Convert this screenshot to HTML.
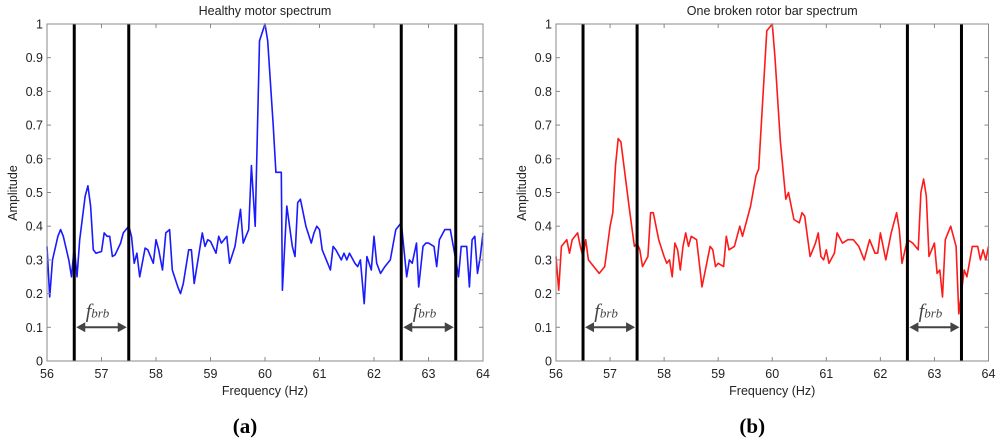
<!DOCTYPE html>
<html><head><meta charset="utf-8"><style>
body{margin:0;background:#fff;width:1000px;height:443px;overflow:hidden}
svg{font-family:"Liberation Sans",sans-serif}
</style></head><body>
<svg id="c" width="1000" height="443"></svg>
<script>
const ticksX=[56,57,58,59,60,61,62,63,64];
const ticksY=[0,0.1,0.2,0.3,0.4,0.5,0.6,0.7,0.8,0.9,1];
const markers=[56.5,57.5,62.5,63.5];
const healthyF=[56,56.05,56.1,56.2,56.25,56.3,56.4,56.45,56.5,56.55,56.6,56.7,56.75,56.8,56.85,56.9,57,57.05,57.1,57.15,57.2,57.25,57.35,57.4,57.5,57.55,57.6,57.65,57.7,57.8,57.85,57.95,58,58.05,58.12,58.18,58.25,58.3,58.4,58.45,58.5,58.6,58.65,58.7,58.8,58.85,58.9,58.95,59,59.1,59.15,59.2,59.3,59.35,59.45,59.55,59.6,59.7,59.75,59.82,59.9,60,60.05,60.15,60.2,60.3,60.32,60.4,60.5,60.55,60.6,60.65,60.75,60.85,60.9,60.95,61,61.05,61.15,61.2,61.25,61.3,61.4,61.45,61.5,61.55,61.65,61.7,61.75,61.82,61.87,61.95,62,62.05,62.12,62.2,62.3,62.4,62.5,62.55,62.6,62.65,62.7,62.78,62.82,62.9,62.95,63,63.1,63.15,63.2,63.3,63.4,63.5,63.55,63.6,63.7,63.75,63.8,63.85,63.9,63.95,64];
const healthyA=[0.34,0.19,0.30,0.37,0.39,0.37,0.30,0.25,0.34,0.25,0.36,0.49,0.52,0.46,0.33,0.32,0.325,0.38,0.37,0.37,0.31,0.315,0.35,0.38,0.40,0.37,0.29,0.32,0.25,0.335,0.33,0.29,0.36,0.33,0.27,0.38,0.39,0.27,0.22,0.20,0.23,0.33,0.33,0.23,0.33,0.38,0.34,0.36,0.355,0.32,0.37,0.35,0.37,0.29,0.34,0.45,0.35,0.39,0.58,0.40,0.95,1.0,0.95,0.70,0.56,0.56,0.21,0.46,0.34,0.31,0.47,0.48,0.40,0.35,0.38,0.40,0.39,0.33,0.29,0.27,0.34,0.33,0.30,0.32,0.30,0.32,0.29,0.28,0.30,0.17,0.31,0.27,0.37,0.29,0.26,0.28,0.30,0.39,0.41,0.33,0.25,0.30,0.29,0.35,0.22,0.34,0.35,0.35,0.34,0.28,0.36,0.39,0.39,0.30,0.25,0.34,0.34,0.22,0.36,0.37,0.26,0.31,0.38];
const brokenF=[56,56.05,56.1,56.2,56.25,56.3,56.4,56.45,56.5,56.55,56.6,56.7,56.8,56.9,57,57.05,57.1,57.15,57.2,57.35,57.45,57.5,57.55,57.6,57.7,57.75,57.8,57.9,58,58.05,58.1,58.15,58.2,58.25,58.3,58.35,58.4,58.45,58.5,58.6,58.7,58.75,58.85,58.9,58.95,59,59.1,59.15,59.2,59.3,59.4,59.45,59.6,59.7,59.75,59.9,60,60.05,60.15,60.25,60.3,60.4,60.5,60.55,60.6,60.7,60.8,60.85,60.9,60.95,61,61.05,61.15,61.2,61.3,61.4,61.5,61.6,61.7,61.8,61.9,61.95,62,62.1,62.2,62.3,62.35,62.4,62.5,62.6,62.7,62.75,62.8,62.85,62.9,63,63.05,63.1,63.15,63.2,63.3,63.4,63.45,63.55,63.6,63.7,63.8,63.85,63.9,63.95,64];
const brokenA=[0.31,0.21,0.34,0.36,0.32,0.36,0.38,0.34,0.31,0.36,0.30,0.28,0.26,0.28,0.40,0.44,0.58,0.66,0.65,0.46,0.34,0.35,0.33,0.28,0.31,0.44,0.44,0.36,0.31,0.29,0.30,0.25,0.35,0.33,0.27,0.34,0.38,0.34,0.37,0.36,0.22,0.26,0.34,0.33,0.28,0.29,0.28,0.37,0.33,0.34,0.40,0.37,0.46,0.55,0.57,0.98,1.0,0.90,0.65,0.48,0.50,0.42,0.41,0.44,0.43,0.31,0.35,0.38,0.31,0.30,0.33,0.29,0.32,0.38,0.35,0.36,0.36,0.34,0.30,0.36,0.32,0.32,0.38,0.30,0.38,0.44,0.39,0.29,0.36,0.35,0.33,0.50,0.54,0.49,0.31,0.35,0.26,0.27,0.19,0.36,0.40,0.34,0.14,0.27,0.25,0.34,0.34,0.30,0.33,0.30,0.34];

const NS='http://www.w3.org/2000/svg';
const svg=document.getElementById('c');
function mk(t,a,p){const e=document.createElementNS(NS,t);for(const k in a)e.setAttribute(k,a[k]);(p||svg).appendChild(e);return e;}
function panel(id,x0,x1,title,F,A,color,label){
  const y0=361,y1=24;
  const g=mk('g',{});
  
  
  const sx=f=>x0+(f-56)/8*(x1-x0), sy=v=>y0-v*(y0-y1);
  // series
  const d=F.map((f,i)=>(i?'L':'M')+sx(f).toFixed(1)+','+sy(A[i]).toFixed(1)).join('');
  const p=mk('path',{d:d,fill:'none',stroke:color,'stroke-width':1.6,'stroke-linejoin':'round'},g);
  
  
  // markers
  markers.forEach(m=>{const l=mk('line',{x1:sx(m),x2:sx(m),y1:y1,y2:y0,stroke:'#000','stroke-width':3},g);
    
    });
  // arrows
  [[markers[0],markers[1]],[markers[2],markers[3]]].forEach(pr=>{
    const a=sx(pr[0])+2,b=sx(pr[1])-2,y=sy(0.1);
    const ag=mk('g',{},g);
    
    
    mk('line',{x1:a+6,x2:b-6,y1:y,y2:y,stroke:'#444','stroke-width':2},ag);
    mk('path',{d:`M${a},${y}l9,-5v10z M${b},${y}l-9,-5v10z`,fill:'#444'},ag);
    const t=mk('text',{x:(a+b)/2-4,y:y-10,'text-anchor':'middle','font-family':'Liberation Serif,serif','font-style':'italic','font-size':20,fill:'#444'},ag);
    t.innerHTML='f<tspan font-size="13">brb</tspan>';
    
    
  });
  // box
  const r=mk('rect',{x:x0,y:y1,width:x1-x0,height:y0-y1,fill:'none',stroke:'#888','stroke-width':1},g);
  
  
  ticksX.forEach(t=>{const x=sx(t);
    mk('line',{x1:x,x2:x,y1:y0,y2:y0-4,stroke:'#888'},g);mk('line',{x1:x,x2:x,y1:y1,y2:y1+4,stroke:'#888'},g);
    const tx=mk('text',{x:x,y:y0+17,'text-anchor':'middle','font-size':12.5,fill:'#222'},g);tx.textContent=t;
    
    });
  ticksY.forEach(t=>{const y=sy(t);
    mk('line',{x1:x0,x2:x0+4,y1:y,y2:y,stroke:'#888'},g);mk('line',{x1:x1,x2:x1-4,y1:y,y2:y,stroke:'#888'},g);
    const tx=mk('text',{x:x0-4,y:y+4.5,'text-anchor':'end','font-size':12.5,fill:'#222'},g);tx.textContent=t;
    
    });
  const tt=mk('text',{x:(x0+x1)/2,y:15,'text-anchor':'middle','font-size':12.5,fill:'#222'},g);tt.textContent=title;
  
  
  const xl=mk('text',{x:(x0+x1)/2,y:395,'text-anchor':'middle','font-size':12.5,fill:'#222'},g);xl.textContent='Frequency (Hz)';
  
  
  const yl=mk('text',{x:0,y:0,'text-anchor':'middle','font-size':12.5,fill:'#222',transform:`translate(${x0-30},193) rotate(-90)`},g);yl.textContent='Amplitude';
  
  
  const lb=mk('text',{x:(x0+x1)/2-20,y:433,'text-anchor':'middle','font-size':21,'font-weight':'bold','font-family':'Liberation Serif,serif',fill:'#000'},g);
  lb.innerHTML='(<tspan fill="#000">'+label+'</tspan>)';
  
  
}
panel('healthy',47,483,'Healthy motor spectrum',healthyF,healthyA,'#1a1aff','a');
panel('broken',556,988.5,'One broken rotor bar spectrum',brokenF,brokenA,'#ff1a1a','b');
</script>
</body></html>
